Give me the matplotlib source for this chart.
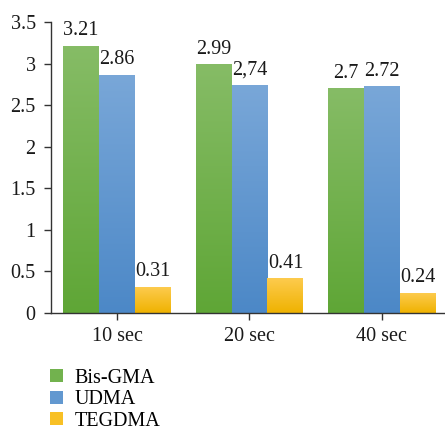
import numpy as np
import matplotlib
matplotlib.use("Agg")
import matplotlib.pyplot as plt
from matplotlib.colors import LinearSegmentedColormap
from matplotlib.patches import Patch

categories = ["10 sec", "20 sec", "40 sec"]
series = ["Bis-GMA", "UDMA", "TEGDMA"]
bis_gma = [3.21, 2.99, 2.7]
udma = [2.86, 2.74, 2.72]
tegdma = [0.31, 0.41, 0.24]
value_labels = [["3.21", "2.99", "2.7"],
                ["2.86", "2,74", "2.72"],
                ["0.31", "0.41", "0.24"]]

# (top colour, bottom colour) for each series
shades = [("#86bc66", "#5fa636"),
          ("#79a7d8", "#4c88c7"),
          ("#fdcb4e", "#efb200")]
legend_colors = ["#72b24e", "#6298d0", "#f8c025"]

plt.rcParams["font.family"] = "Liberation Serif"
fs = 14.5

fig = plt.figure(figsize=(4.45, 4.32), dpi=100)
ax = fig.add_axes([51 / 445, 1 - 313 / 432, 397 / 445, 291 / 432])

x = np.arange(len(categories))
width = 0.272
values = [bis_gma, udma, tegdma]

for i, (vals, (top, bottom)) in enumerate(zip(values, shades)):
    bars = ax.bar(x + (i - 1) * width, vals, width, color=top, linewidth=0, zorder=1)
    cmap = LinearSegmentedColormap.from_list("g%d" % i, [bottom, top])
    grad = np.linspace(0, 1, 256).reshape(-1, 1)
    for bar, lab in zip(bars, value_labels[i]):
        bx, bw, bh = bar.get_x(), bar.get_width(), bar.get_height()
        ax.imshow(grad, cmap=cmap, origin="lower", aspect="auto",
                  extent=(bx, bx + bw, 0, bh), zorder=2)
        ax.text(bx + bw / 2, bh + 0.07, lab, ha="center", va="bottom",
                fontsize=fs, color="#1a1a1a")

ax.set_xlim(-0.5, 2.5)
ax.set_ylim(0, 3.5)
ax.set_yticks(np.arange(0, 3.51, 0.5))
ax.set_yticklabels(["0", "0.5", "1", "1.5", "2", "2.5", "3", "3.5"])
ax.set_xticks(x)
ax.set_xticklabels(categories)
ax.spines["top"].set_visible(False)
ax.spines["right"].set_visible(False)
for s in ("left", "bottom"):
    ax.spines[s].set_color("#333333")
    ax.spines[s].set_linewidth(1.0)
ax.tick_params(axis="both", direction="out", length=5, width=1,
               color="#333333", labelcolor="#1a1a1a", labelsize=fs)
ax.tick_params(axis="x", pad=5)
ax.tick_params(axis="y", pad=6)

handles = [Patch(facecolor=c, edgecolor="none") for c in legend_colors]
fig.legend(handles, series, loc="upper left", bbox_to_anchor=(42 / 445, 1 - 361 / 432),
           frameon=False, handlelength=0.62, handleheight=0.62, handletextpad=0.6,
           labelspacing=0.12, fontsize=fs, borderaxespad=0)

fig.savefig("out.png", dpi=100)
